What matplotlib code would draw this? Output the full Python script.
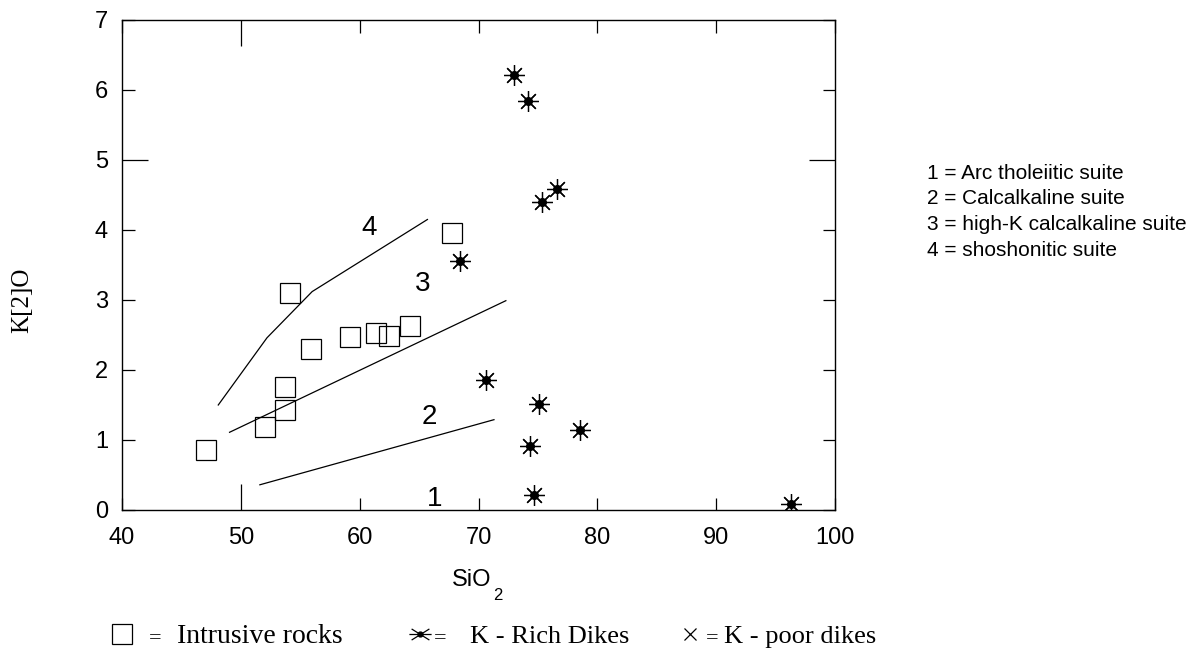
import matplotlib.pyplot as plt
from matplotlib.path import Path
from matplotlib.lines import Line2D

# intrusive rocks (open squares)
intr_sio2 = [47.1, 52.0, 53.75, 53.7, 54.1, 55.9, 59.2, 61.4, 62.5, 64.2, 67.8]
intr_k2o = [0.86, 1.19, 1.43, 1.76, 3.10, 2.30, 2.47, 2.53, 2.48, 2.63, 3.96]

# K-rich dikes (asterisks)
rich_sio2 = [73.0, 74.2, 75.3, 76.6, 68.4, 70.6, 75.1, 74.3, 78.5, 74.7, 96.3]
rich_k2o = [6.21, 5.84, 4.40, 4.59, 3.56, 1.86, 1.51, 0.91, 1.14, 0.21, 0.08]

# suite boundary lines
line4_x = [48.1, 52.2, 56.0, 65.7]
line4_y = [1.50, 2.46, 3.12, 4.15]
line3_x = [49.05, 72.3]
line3_y = [1.11, 2.99]
line2_x = [51.6, 71.3]
line2_y = [0.36, 1.29]

# field numbers
field_num = ["4", "3", "2", "1"]
field_x = [60.8, 65.3, 65.9, 66.3]
field_y = [4.03, 3.23, 1.33, 0.16]

suites = ["1 = Arc tholeiitic suite", "2 = Calcalkaline suite",
          "3 = high-K calcalkaline suite", "4 = shoshonitic suite"]

xticks = [40, 50, 60, 70, 80, 90, 100]
yticks = [0, 1, 2, 3, 4, 5, 6, 7]

sans = "Liberation Sans"
serif = "Liberation Serif"

fig = plt.figure(figsize=(11.88, 6.49), dpi=100)
ax = fig.add_axes([0.1027, 0.2142, 0.6002, 0.755])

ax.plot(line4_x, line4_y, color="black", lw=0.9)
ax.plot(line3_x, line3_y, color="black", lw=0.9)
ax.plot(line2_x, line2_y, color="black", lw=0.9)

ax.plot(intr_sio2, intr_k2o, ls="none", marker="s", ms=14.5, mfc="none",
        mec="black", mew=0.9)
ax.plot(rich_sio2, rich_k2o, ls="none", marker=(8, 2, 0), ms=15,
        color="black", mew=0.9)
ax.plot(rich_sio2, rich_k2o, ls="none", marker="o", ms=5.5, color="black")

for t, x, y in zip(field_num, field_x, field_y):
    ax.text(x, y, t, fontsize=20, family=sans, ha="center", va="center")

ax.set_xlim(40, 100)
ax.set_ylim(0, 7)
ax.set_xticks(xticks)
ax.set_yticks(yticks)
ax.tick_params(direction="in", length=9, width=0.9, top=True, right=True,
               labelsize=17, pad=10)
ax.tick_params(axis="x", pad=12)
for lab in ax.get_xticklabels() + ax.get_yticklabels():
    lab.set_family(sans)

# longer ticks at 50 and 5
for tk in [ax.xaxis.get_major_ticks()[1], ax.yaxis.get_major_ticks()[5]]:
    tk.tick1line.set_markersize(19)
    tk.tick2line.set_markersize(19)

for sp in ax.spines.values():
    sp.set_linewidth(1.0)

# axis labels
fig.text(22 / 1188, 1 - 300 / 649, "K[2]O", rotation=90, family=serif,
         fontsize=18, ha="center", va="center")
fig.text(472 / 1188, 1 - 580 / 649, "SiO", family=sans, fontsize=17,
         ha="center", va="center")
fig.text(498 / 1188, 1 - 596 / 649, "2", family=sans, fontsize=12,
         ha="center", va="center")

# suite legend on the right
for i, s in enumerate(suites):
    fig.text(927 / 1188, 1 - (173 + 26 * i) / 649, s, family=sans,
             fontsize=15, ha="left", va="center")

# symbol legend at the bottom
yb = 1 - 634 / 649
flat_star = Path([(-1, 0), (1, 0), (-0.8, -0.5), (0.8, 0.5), (-0.8, 0.5), (0.8, -0.5)],
                 [Path.MOVETO, Path.LINETO, Path.MOVETO, Path.LINETO, Path.MOVETO, Path.LINETO])
fig.add_artist(Line2D([122 / 1188], [yb], marker="s", ms=14, mfc="none",
                      mec="black", mew=0.9, transform=fig.transFigure))
fig.add_artist(Line2D([420 / 1188], [yb], marker=flat_star, ms=16,
                      color="black", mew=0.9, transform=fig.transFigure))
fig.add_artist(Line2D([420 / 1188], [yb], marker="o", ms=3.5,
                      color="black", transform=fig.transFigure))
fig.add_artist(Line2D([690 / 1188], [yb], marker="x", ms=8, mew=0.9,
                      color="black", transform=fig.transFigure))

yt = 1 - 643 / 649
fig.text(155 / 1188, yt, "=", family=serif, fontsize=16, ha="center", va="baseline")
fig.text(177 / 1188, yt, "Intrusive rocks", family=serif, fontsize=20, va="baseline")
fig.text(440 / 1188, yt, "=", family=serif, fontsize=16, ha="center", va="baseline")
fig.text(470 / 1188, yt, "K - Rich Dikes", family=serif, fontsize=19, va="baseline")
fig.text(712 / 1188, yt, "=", family=serif, fontsize=16, ha="center", va="baseline")
fig.text(724 / 1188, yt, "K - poor dikes", family=serif, fontsize=19, va="baseline")

fig.savefig("out.png", dpi=100)
